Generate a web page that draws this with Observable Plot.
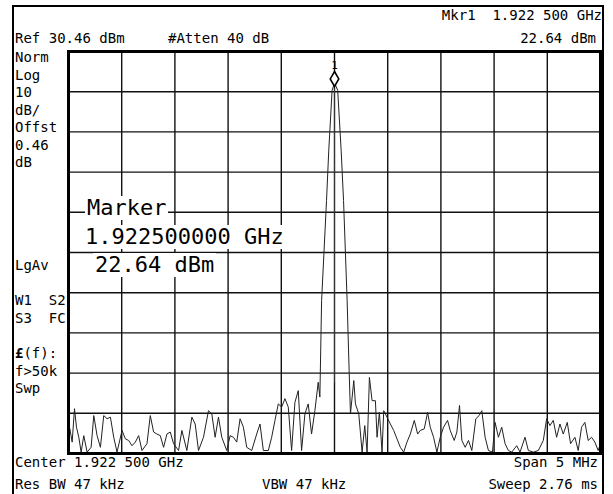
<!DOCTYPE html>
<html><head><meta charset="utf-8">
<script src="https://cdn.jsdelivr.net/npm/d3@7"></script>
<script src="https://cdn.jsdelivr.net/npm/@observablehq/plot@0.6"></script>
<style>
body{margin:0;background:#fff}
#wrap{position:relative;width:613px;height:494px;overflow:hidden;font-family:"DejaVu Sans Mono",monospace;color:#000;background:#fff}
#wrap svg{position:absolute;left:0;top:0}
.t{position:absolute;font-size:14px;line-height:14px;white-space:pre}
.big{position:absolute;font-size:22px;line-height:24px;white-space:pre;background:#fff;padding:0 2px}
#outer{position:absolute;left:12px;top:5px;width:588px;height:520px;border:2px solid #000}
</style></head>
<body><div id="wrap"></div>
<script>
// ---- data (trace points 0..400 across 5 MHz span, levels in dBm) ----
const refLevel = 30.46;          // dBm, top graticule
const dbPerDiv = 10;
const sweepPoints = 400;
const markerPoint = 200;         // centre = 1.922 500 GHz
const markerLevel = 22.64;       // dBm

const tracePoint = [0,1,2.75,4.5,6,7.75,9.5,11.5,14,17,19,21.5,24,26.5,29,31.5,34,36.5,40.25,42.75,45.25,47.75,50.25,52.75,55.25,59,61.5,64,66.5,69,71.5,74,76.5,79,82.75,85.25,89,92.75,95.25,97.75,101.5,105.25,107.75,110.25,112.75,115.25,119,121.5,124,126.5,129,131.5,134,137.75,141.5,144,146.5,150.25,152.75,155.25,157.75,160.25,162.75,165.25,167.75,170.25,172.75,175.25,177.75,180.25,182.75,185.25,187.75,189,190.3,194,195.7,198.2,200,202.4,205,206.8,209.5,211,212,214.5,215.75,218.25,220.75,222.75,224.5,226.25,228.25,230.75,232,233.75,235.75,237,239.5,242,244.5,247,249.5,252,254.5,257,260,262.5,264.5,267.5,270,272,274.5,277,279.5,282,285,287,290,292,294,295.75,298.25,300.75,303.25,306.25,308.75,310.75,313.25,315.75,318.75,320.75,323.25,325.75,328.25,330.75,333.25,337,339.5,343.25,345.75,349.5,353.25,357,359.5,362,364.5,367,369.5,372,375,377.5,380.75,383.25,385.75,388.25,390.75,393.25,395.75,398.25,400];
const traceDbm = [-65.5,-63.4,-66.7,-58.4,-63.0,-65.5,-69.2,-65.1,-69.2,-68.0,-60.1,-65.1,-68.0,-60.1,-60.9,-60.5,-65.5,-69.2,-63.8,-65.9,-66.3,-67.6,-66.7,-65.1,-68.8,-67.1,-60.1,-64.2,-64.7,-65.1,-68.0,-64.7,-64.2,-67.1,-68.8,-63.8,-68.8,-60.5,-62.2,-68.8,-65.5,-58.9,-59.7,-65.5,-60.5,-65.5,-68.8,-65.1,-65.5,-66.7,-60.9,-63.0,-68.0,-68.8,-64.7,-62.2,-68.8,-68.8,-65.5,-61.3,-57.2,-58.0,-55.9,-58.0,-68.8,-56.8,-53.9,-68.8,-59.7,-57.2,-64.7,-58.9,-51.8,-55.5,-31.5,-6.6,5.9,20.8,22.64,20.8,5.9,-6.6,-31.5,-48.9,-59.7,-51.4,-57.2,-59.7,-69.2,-62.6,-69.2,-50.6,-56.4,-56.4,-65.5,-59.3,-69.2,-58.9,-60.5,-62.2,-63.8,-65.9,-68.0,-69.2,-66.7,-64.7,-61.3,-64.7,-63.8,-63.4,-59.3,-63.0,-65.5,-69.2,-65.5,-63.0,-61.3,-63.8,-66.3,-64.2,-57.6,-66.3,-68.0,-66.3,-68.8,-60.9,-60.1,-58.9,-65.5,-68.8,-69.2,-61.8,-65.5,-63.0,-67.1,-68.8,-69.2,-67.6,-69.2,-65.5,-68.8,-69.2,-68.8,-66.3,-60.9,-62.6,-61.3,-65.5,-62.2,-64.7,-61.8,-67.1,-65.5,-68.8,-63.0,-61.8,-66.3,-65.5,-66.7,-68.8,-67.0];

// annotation texts
const headerTexts = ["Mkr1  1.922 500 GHz", "22.64 dBm", "Ref 30.46 dBm", "#Atten 40 dB"];
const sideTexts = ["Norm","Log","10","dB/","Offst","0.46","dB","LgAv","W1  S2","S3  FC","(f):","f>50k","Swp"];
const footerTexts = ["Center 1.922 500 GHz","Span 5 MHz","Res BW 47 kHz","VBW 47 kHz","Sweep 2.76 ms"];
const markerTexts = ["Marker","1.922500000 GHz","22.64 dBm"];

// ---- build ----
const trace = tracePoint.map((p, i) => ({pt: p, dbm: traceDbm[i]}));
const xGrid = d3.range(0, sweepPoints + 1, sweepPoints / 10);
const yGrid = d3.range(0, 11).map(k => refLevel - k * dbPerDiv);
const marker = [{pt: markerPoint, dbm: markerLevel}];

const plot = Plot.plot({
  width: 613, height: 494,
  marginLeft: 68, marginRight: 13, marginTop: 51, marginBottom: 41,
  x: {domain: [0, sweepPoints], axis: null},
  y: {domain: [refLevel - 10 * dbPerDiv, refLevel], axis: null},
  style: {background: "transparent"},
  marks: [
    Plot.gridX(xGrid, {stroke: "#111", strokeOpacity: 1, strokeWidth: 1.4}),
    Plot.gridY(yGrid, {stroke: "#111", strokeOpacity: 1, strokeWidth: 1.4}),
    Plot.ruleX(marker, {x: "pt", y1: -52, y2: "dbm", stroke: "#333", strokeWidth: 1}),
    Plot.line(trace, {x: "pt", y: "dbm", stroke: "#222", strokeWidth: 1, clip: true}),
    Plot.dot(marker, {x: "pt", y: "dbm", symbol: "diamond", r: 4.5, stroke: "#000", fill: "#fff", strokeWidth: 1.6, dy: -4}),
    Plot.text(marker, {x: "pt", y: "dbm", text: () => "1", dy: -17, fontSize: 11, fontFamily: "DejaVu Sans Mono", fill: "#000"}),
    Plot.frame({stroke: "#000", strokeWidth: 3})
  ]
});

const wrap = document.getElementById("wrap");
wrap.appendChild(plot);
const outer = document.createElement("div");
outer.id = "outer";
wrap.appendChild(outer);

function put(text, opt) {
  const d = document.createElement("div");
  d.className = opt.big ? "big" : "t";
  if (opt.html) d.innerHTML = opt.html; else d.textContent = text;
  const off = opt.big ? 11.6 : 6.7;
  d.style.top = (opt.cy - off) + "px";
  if (opt.left != null) d.style.left = opt.left + "px";
  if (opt.right != null) d.style.right = opt.right + "px";
  wrap.appendChild(d);
}

// header
put(headerTexts[0], {right: 11, cy: 15});
put(headerTexts[1], {right: 17, cy: 38});
put(headerTexts[2], {left: 15, cy: 38});
put(headerTexts[3], {left: 168, cy: 38});

// left panel
const sideY = [57, 75, 92, 110, 127, 145, 162, 265, 300, 318, 353, 371, 388];
sideTexts.forEach((s, i) => {
  if (s === "(f):") put(s, {left: 15, cy: sideY[i], html: "<b>£</b>(f):"});
  else put(s, {left: 15, cy: sideY[i]});
});

// footer
put(footerTexts[0], {left: 15, cy: 462});
put(footerTexts[1], {right: 15, cy: 462});
put(footerTexts[2], {left: 15, cy: 484});
put(footerTexts[3], {left: 262, cy: 484});
put(footerTexts[4], {right: 15, cy: 484});

// marker readout
put(markerTexts[0], {left: 85, cy: 208, big: true});
put(markerTexts[1], {left: 83, cy: 237, big: true});
put(markerTexts[2], {left: 93, cy: 265, big: true});
</script>
</body></html>
